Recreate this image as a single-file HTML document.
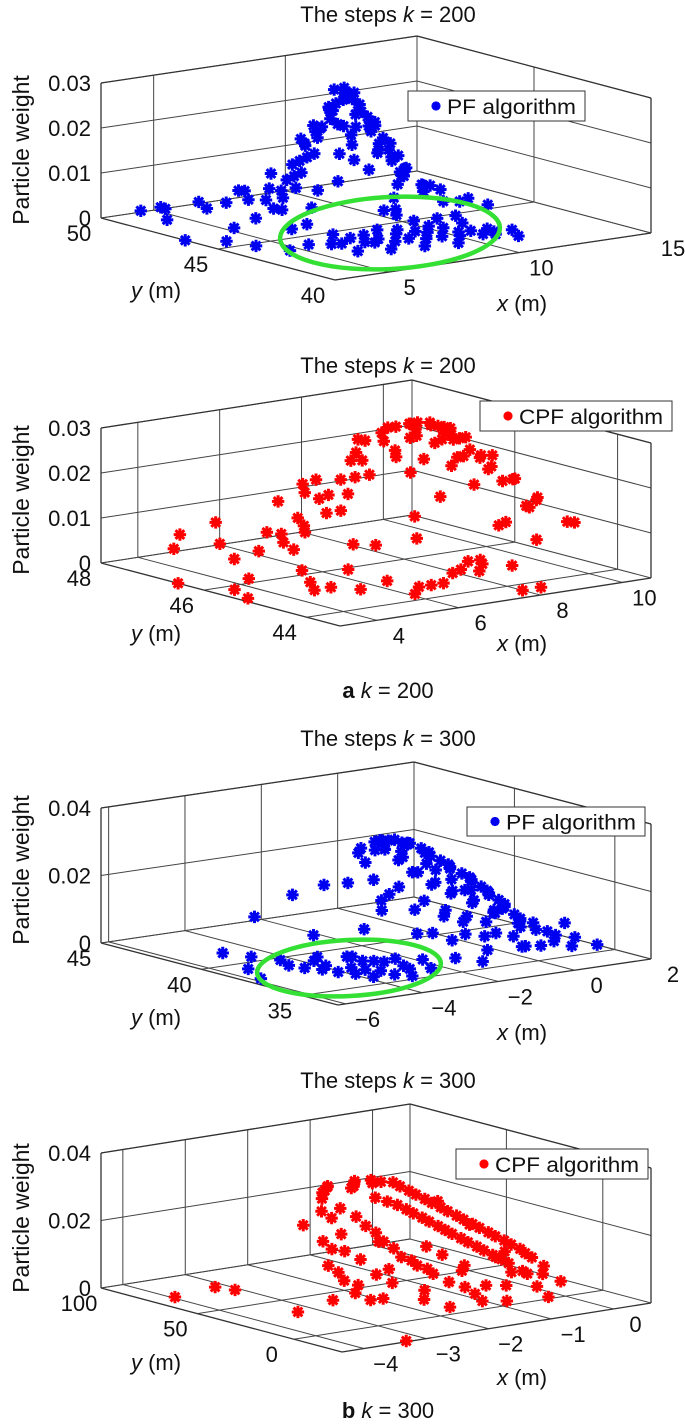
<!DOCTYPE html>
<html><head><meta charset="utf-8"><style>
html,body{margin:0;padding:0;background:#fff;}
svg{display:block;font-family:"Liberation Sans",Arial,sans-serif;}
</style></head><body>
<svg id="fig" width="685" height="1426" viewBox="0 0 685 1426" xmlns="http://www.w3.org/2000/svg"></svg>
<script>
// ---------- Panel 1: PF k=200 ----------
const p1x=[5.2,5.8,6.3,6.8,7.2,7.6,7.9,8.3,8.6,9,9.4,9.7,10,10.4,10.7,6,7,8.1,9.2,9.9,10.5,11,11.3,8.8,
3.2,3,3.5,4,4.5,4.8,5.2,5.5,5.8,4.2,6.2,6.5,3.8,5,4.4,6,
9.3,9.1,9.5,9,9.6,8.8,9.8,8.6,10,8.4,10.2,8.2,10.4,8,10.6,7.8,10.8,7.6,11,7.4,11.2,7.2,11.4,7,11.6,6.8,11.8,6.6,12.2,9.2,9.4,8.9,9.7,8.5,10.1,10.5,10.8,11.2,10,9.5,12.5,12.8,8,8.8,11.5,9,9.8];
const p1y=[43.6,43.3,43.8,43,43.5,42.6,42.9,43.3,42.4,42.8,43.2,42.2,42.6,42,41.8,42.4,42.1,41.9,41.7,43.4,43,42.5,41.5,43.9,
47.4,46.4,45.2,44.5,46,47.5,48.3,46.2,45,48.8,44.8,47.8,49.2,49.5,43.5,46,
46.7,46.9,46.5,46.4,47,46.8,46.6,46.5,46.9,47,46.4,46.6,46.8,46.9,46.5,46.6,46.9,47,46.3,46.7,46.8,46.4,46.5,46.8,46.9,46.5,46.2,47,46.6,46.1,47.3,47.2,46.1,46,47.3,45.5,45,44.6,45.2,44.8,45,44.5,45.5,45.8,45.5,45.3,45.8];
const p1z=[.001,.001,.002,.001,.0015,.001,.002,.002,.001,.0015,.002,.001,.001,.001,.001,.0005,.0005,.0005,.0005,.003,.002,.001,.0005,.004,
.003,0,.001,.0005,.002,.004,.004,.003,.002,.003,.003,.006,.002,.001,.0005,.005,
.028,.0275,.027,.026,.026,.024,.024,.022,.022,.02,.02,.018,.018,.016,.016,.014,.014,.012,.012,.01,.01,.008,.008,.007,.007,.006,.005,.005,.004,.023,.022,.019,.02,.015,.016,.009,.006,.004,.008,.006,.003,.002,.01,.017,.006,.012,.015];
const p1more=[[9.2,46.5,.0265],[9.4,46.8,.0255],[8.9,46.6,.025],[9.7,46.8,.025],[9,47,.023],[9.6,46.3,.023],[8.7,46.3,.021],[10.1,46.6,.021],[8.3,46.8,.019],[10.3,46.5,.019],[8.1,47.2,.017],[10.5,46.9,.017],[7.9,46.4,.015],[10.7,46.3,.015],[7.7,46.8,.013],[10.9,46.6,.013],[7.5,46.5,.011],[11.1,46.6,.011],[7.3,46.9,.009],[11.3,46.3,.009],[6.9,47.2,.007],[11.5,46.7,.007],[9.3,46.2,.02],[9.1,47.5,.018],[9.9,47.4,.018],[8.6,47.6,.015],[8.7,45.6,.014],[9.5,45.5,.015],[10.3,45.8,.013],[7.5,45.8,.008],[7,45.5,.005],[6.5,46.2,.004],[6.2,47.3,.005],[5.8,47.8,.004],[6.8,48.4,.005],[7.5,47.8,.009],[10.8,45.8,.01],[11.8,45.4,.005],[12,44.8,.003],[9.3,44.5,.004],
[6.1,43.2,.001],[6.6,43.4,.0015],[7.4,43.1,.001],[7.8,43.6,.002],[8.2,42.7,.001],[8.8,43.1,.0015],[9.2,42.4,.001],[9.6,42.8,.002],[10.2,42.3,.0015],[10.9,42.1,.001],[9.1,43.5,.003],[8.5,44.1,.005],[7,42.8,.001],[11.5,42,.001],[10.6,43.4,.003]];
p1more.forEach(p=>{p1x.push(p[0]);p1y.push(p[1]);p1z.push(p[2]);});
const p1xTicks=[5,10,15], p1yTicks=[40,45,50], p1zTicks=[0,0.01,0.02,0.03];
const p1zLabels=["0","0.01","0.02","0.03"];

// ---------- Panel 2: CPF k=200 ----------
const p2x=[8.75,8.5,9,8.3,9.2,8.6,8.9,8,9.5,7.8,9.7,7.6,9.9,7.4,10.1,7.2,10.2,7,10.4,6.8,10.5,6.6,10.6,6.4,10.4,6.2,8.4,9.3,8,9.8,8.8,7.5,7.2,6.8,8.2,9.4,10,10.3,7.6,8.8,9.1,7.8,8.5,6.5,
5.7,5.5,5,4.6,6,5.2,4.4,4.8,6.2,6.6,6.9,7.2,8.2,8.4,8,8.6,7.8,8,8.2,3.1,3.6,3.3,4.2,5.8,6.4,5.4,4];
const p2y=[46.1,46.3,45.9,46,46.3,45.7,46.6,46.4,46,46,46.4,46.5,45.8,46.2,46.2,46.6,45.6,46.3,46,46.7,45.4,46.4,44.9,46.8,44.6,46.5,45.4,45.4,45.3,45,44.8,45.4,47.3,47.5,47.2,47,47,46.8,47.4,47.4,44.9,44.6,44.3,45.8,
47,46,47.2,46.6,45.5,45.6,47.5,45.2,44.9,44.6,44.6,44.6,44.7,44.8,44.9,45,44.9,43.7,43.5,46.5,45.8,45.3,46,46.6,47.4,47.6,47.3];
const p2z=[.029,.0285,.028,.027,.027,.028,.027,.025,.025,.023,.023,.021,.021,.019,.019,.017,.016,.015,.014,.013,.012,.011,.008,.009,.009,.007,.022,.02,.016,.012,.01,.012,.012,.01,.018,.022,.02,.017,.014,.021,.01,.004,.003,.006,
.002,.001,.004,.003,.002,0,.006,0,.001,0,0,0,.001,.002,.001,.002,.0005,0,.001,0,0,0,.001,.005,.004,.007,.004];
const p2more=[[8.7,46.3,.0285],[8.4,46.1,.028],[9.1,46.1,.0275],[8.2,46.6,.026],[9.4,46.6,.026],[8.9,45.8,.027],[8.6,46.8,.026],[9.6,46.2,.024],[7.9,46.1,.024],[8.1,45.7,.023],[9.1,45.6,.024],[9.8,46.7,.022],[7.7,46.7,.022],[10,46.1,.02],[7.3,46.4,.018],[10.2,46.6,.018],[6.9,46.6,.014],[10.4,45.8,.015],[6.7,46.2,.012],[10.6,45.5,.011],[6.3,46.6,.008],[6,46.8,.006],[5.8,46.4,.004],[9.5,45.5,.02],[8.7,45.2,.018],[7.9,45.8,.02],[9.3,47.2,.024],[8.5,47.3,.022],[7.4,47.5,.013],[10.1,45.3,.011],[9.6,44.7,.006],[7.3,45.2,.008],[6.8,45.6,.006],[6,44.2,.0005],[5.3,44.7,.001],[4.7,44.8,.002]];
p2more.forEach(p=>{p2x.push(p[0]);p2y.push(p[1]);p2z.push(p[2]);});
const p2xTicks=[4,6,8,10], p2yTicks=[44,46,48], p2zTicks=[0,0.01,0.02,0.03];
const p2zLabels=["0","0.01","0.02","0.03"];

// ---------- Panel 3: PF k=300 ----------
const p3x=[-1.14,-1.3,-0.9,-1.5,-0.7,-1,-1.6,-0.5,-0.3,-0.1,0.1,0.3,0.5,0.6,0.8,0.9,1,1.1,1.2,1.3,-1.8,-1.9,-1.7,-1.2,-0.8,-0.4,0,0.4,-1.4,-0.9,-0.5,-2.1,-2,-1.6,-1,-0.2,0.5,-2.2,-1.3,-0.4,0.2,0.7,1.2,-2.5,
1.5,1.7,1.9,1.4,0.8,0.2,-0.6,-1.65,-1.2,1.8,2,
-3.8,-4.5,-2.5,-4.2,-3.5,-3.1,-4,-3.3,-2.9,-4.7,-3.6,-2.7,-4.4,-3.9,-5,-3.2,-2.3,
-4.8,-2.6,-5.5,-5.8,-3,-2.2];
const p3y=[40,40.3,39.7,39.8,40.2,41,40.8,39.5,39.8,39.3,39.6,39,39.3,38.7,39,38.4,38.7,38,38.3,37.6,40.2,39.6,39.2,39,38.8,38.6,38.3,38,38.5,38,37.8,40.5,39,38,37.4,37.3,37.2,41.5,41.5,41,40.5,40,39.5,42.5,
37,38.5,36.8,36,36.4,36.2,36.4,36,35.5,35.5,37.5,
37.1,39.3,35.6,38.2,36.2,36.8,36.5,38,35.9,38.5,37.7,37,37.4,35.8,39.8,35.2,36.4,
41.6,44.2,39,37.8,40.5,39.5];
const p3z=[.03,.0295,.029,.028,.028,.028,.027,.026,.024,.022,.02,.018,.016,.014,.012,.01,.008,.006,.004,.003,.024,.02,.016,.022,.018,.015,.012,.009,.012,.01,.008,.018,.012,.006,.004,.004,.003,.016,.024,.022,.018,.012,.006,.012,
.002,.003,.001,.0005,.001,.002,.002,.002,.001,.001,.004,
.001,.001,.001,.002,.001,.002,.0005,.002,.001,.001,.003,.002,.001,.0005,.002,.0005,.002,
0,.003,.0005,0,.004,.006];
const p3more=[[-1.2,40.2,.0295],[-1,39.9,.029],[-1.4,40.5,.029],[-0.8,40,.028],[-1.6,40.1,.0275],[-0.6,39.7,.027],[-0.4,39.9,.025],[-0.2,39.5,.023],[0,39.4,.021],[0.2,39.2,.019],[0.4,39.1,.017],[0.55,38.9,.015],[0.7,38.8,.013],[0.85,38.6,.011],[0.95,38.5,.009],[1.05,38.2,.007],[1.15,38.1,.005],[-1.1,40.6,.027],[-0.7,40.5,.025],[-0.2,40.2,.021],[0.3,39.9,.016],[0.6,39.5,.013],[-1.3,39.5,.025],[-0.9,39.3,.021],[-0.6,39,.018],[-0.2,38.9,.015],[0.2,38.6,.012],[0.6,38.3,.008],[1,37.8,.004],[-1.5,39.1,.018],[-1.1,38.6,.014],[-0.7,38.3,.011],[-0.3,38,.009],[0.1,37.8,.007],[-1.8,39.4,.014],[-1.3,37.8,.006],[-0.6,37.5,.005],[0.2,37.5,.004],[1.6,37.6,.002],[1.3,36.7,.001],[0.5,36.6,.001],
[-4.1,37.8,.001],[-3.7,36.6,.001],[-3.4,37.3,.002],[-4.3,36.8,.001],[-3,37.5,.001],[-3.9,38.6,.002],[-3.4,35.7,.0005],[-2.8,36.4,.001],[-4.6,37.9,.001]];
p3more.forEach(p=>{p3x.push(p[0]);p3y.push(p[1]);p3z.push(p[2]);});
const p3xTicks=[-6,-4,-2,0,2], p3yTicks=[35,40,45], p3zTicks=[0,0.02,0.04];
const p3xLabels=["\u22126","\u22124","\u22122","0","2"];
const p3zLabels=["0","0.02","0.04"];

// ---------- Panel 4: CPF k=300 ----------
const p4x=[-2.2,-2,-1.8,-1.6,-1.4,-1.2,-1,-0.9,-0.8,-0.7,-0.6,-0.5,-0.4,-0.3,-0.2,-0.15,-0.1,-1.5,-1.3,-1.2,-1.1,-1,-0.9,-0.8,-0.7,-0.6,-0.5,-2.2,-2.2,-2.3,-2.2,-2.1,-1.9,-1.8,-1.7,-1.6,-1.5,-1.4,-1.3,-0.4,-0.2,-0.3,-0.5,-2.5,-2.4,-2.5,-2.4,-1.6,-1.2,-0.9,-1,
-3.95,-3.17,-3.08,-3.28,-3.29,-1.57,-1.02,-0.77,-0.2,0.26,-2.1,-2.74,-2.5,-2.3,-1.8,-0.3,0.1];
const p4y=[55,60,65,58,64,62,57,52,47,42,37,32,27,22,17,12.5,8,50,45,40,35,30,25,20,15,10,6,50,45,40,35,30,42,36,30,25,20,15,10,15,25,40,50,55,48,42,37,45,25,12,20,
74.6,79,71.6,32.5,-24,9,10,5.4,2.3,10.8,33,31.8,28,20,15,5,15];
const p4z=[.027,.028,.028,.0285,.0285,.0285,.028,.026,.024,.022,.02,.018,.016,.014,.012,.01,.008,.026,.024,.022,.02,.018,.016,.014,.012,.01,.008,.022,.018,.014,.012,.008,.02,.016,.012,.01,.008,.006,.005,.006,.01,.016,.022,.02,.016,.01,.006,.014,.012,.004,.009,
0,0,0,0,0,0,0,0,0,.002,0,.002,.004,.003,.002,.003,.004];
const p4more=[[-2.1,58,.028],[-1.9,62,.0285],[-1.7,56,.0285],[-1.5,61,.0285],[-1.3,58,.0285],[-1.1,60,.028],[-0.95,55,.027],[-0.85,50,.025],[-0.75,45,.023],[-0.65,40,.021],[-0.55,35,.019],[-0.45,30,.017],[-0.35,25,.015],[-0.25,20,.013],[-0.18,15,.011],[-1.4,47,.025],[-1.25,42,.023],[-1.15,37,.021],[-1.05,32,.019],[-0.95,28,.017],[-0.85,23,.015],[-0.75,18,.013],[-0.65,12,.011],[-2,52,.024],[-1.9,47,.022],[-1.8,40,.018],[-1.7,34,.014],[-1.6,28,.011],[-1.5,23,.009],[-2.3,52,.024],[-2.35,45,.014],[-2.4,40,.008],[-2.3,33,.005],[-1.3,30,.014],[-1.1,18,.008],[-0.5,20,.01],[-0.3,10,.006],[-0.7,8,.004],[-1.2,8,.003],[-2,25,.006],[-1.7,18,.004],[-1.9,30,.009]];
p4more.forEach(p=>{p4x.push(p[0]);p4y.push(p[1]);p4z.push(p[2]);});
const p4xTicks=[-4,-3,-2,-1,0], p4yTicks=[0,50,100], p4zTicks=[0,0.02,0.04];
const p4xLabels=["\u22124","\u22123","\u22122","\u22121","0"];
const p4zLabels=["0","0.02","0.04"];

const NS="http://www.w3.org/2000/svg";
const svg=document.getElementById('fig');
function mk(tag,attrs,parent){const e=document.createElementNS(NS,tag);for(const k in attrs)e.setAttribute(k,attrs[k]);(parent||svg).appendChild(e);return e;}
const FS=22;

const panels=[
 {id:'p1',F:[335,280],R:[651,233],L:[101,218],h:135,xr:[3,15],yr:[40,50],zr:[0,0.03],
  xs:p1x,ys:p1y,zs:p1z,xt:p1xTicks,yt:p1yTicks,zt:p1zTicks,zl:p1zLabels,xl:null,
  color:'#0000f0',title:'200',titleY:22,legend:[408,91,177,30,'PF algorithm'],
  ylab:[156,298],xlab:[522,311],wY:150,ell:[390,233,110,36,-3]},
 {id:'p2',F:[340,626],R:[651,578],L:[101,563],h:135,xr:[3.1,10.7],yr:[43.35,48],zr:[0,0.03],
  xs:p2x,ys:p2y,zs:p2z,xt:p2xTicks,yt:p2yTicks,zt:p2zTicks,zl:p2zLabels,xl:null,
  color:'#ff0000',title:'200',titleY:373,legend:[480,401,192,30,'CPF algorithm'],
  ylab:[156,641],xlab:[522,651],wY:500,ell:null,cap:['a','200',698]},
 {id:'p3',F:[338,1005],R:[651,959],L:[101,943],h:135,xr:[-6.2,2],yr:[33.2,45],zr:[0,0.04],
  xs:p3x,ys:p3y,zs:p3z,xt:p3xTicks,yt:p3yTicks,zt:p3zTicks,zl:p3zLabels,xl:p3xLabels,
  color:'#0000f0',title:'300',titleY:746,legend:[467,807,178,29,'PF algorithm'],
  ylab:[156,1025],xlab:[522,1040],wY:870,ell:[349,968,92,28,-3]},
 {id:'p4',F:[342,1352],R:[651,1303],L:[101,1288],h:135,xr:[-4.35,0.6],yr:[-25,100],zr:[0,0.04],
  xs:p4x,ys:p4y,zs:p4z,xt:p4xTicks,yt:p4yTicks,zt:p4zTicks,zl:p4zLabels,xl:p4xLabels,
  color:'#ff0000',title:'300',titleY:1088,legend:[456,1149,192,30,'CPF algorithm'],
  ylab:[156,1370],xlab:[522,1385],wY:1218,ell:null,cap:['b','300',1418]}
];

function star(g,x,y,r,color){
  const d=r*0.707;
  return mk('path',{d:`M${x-r} ${y}L${x+r} ${y}M${x} ${y-r}L${x} ${y+r}M${x-d} ${y-d}L${x+d} ${y+d}M${x-d} ${y+d}L${x+d} ${y-d}`,stroke:color,'stroke-width':3,fill:'none'},g);
}

panels.forEach(P=>{
  const g=mk('g',{});
  
  
  const ax=[P.R[0]-P.F[0],P.R[1]-P.F[1]], bx=[P.L[0]-P.F[0],P.L[1]-P.F[1]];
  const sx=x=>(x-P.xr[0])/(P.xr[1]-P.xr[0]);
  const sy=y=>(y-P.yr[0])/(P.yr[1]-P.yr[0]);
  const sz=z=>(z-P.zr[0])/(P.zr[1]-P.zr[0]);
  const proj=(x,y,z)=>{const u=sx(x),v=sy(y),w=sz(z);return [P.F[0]+u*ax[0]+v*bx[0], P.F[1]+u*ax[1]+v*bx[1]-w*P.h];};
  const X0=P.xr[0],X1=P.xr[1],Y0=P.yr[0],Y1=P.yr[1],Z0=P.zr[0],Z1=P.zr[1];
  const line=(a,b,name,w,c)=>{const l=mk('line',{x1:a[0],y1:a[1],x2:b[0],y2:b[1],stroke:c||'#333','stroke-width':w||1},g);return l;};
  P.xt.forEach(t=>{line(proj(t,Y0,Z0),proj(t,Y1,Z0),'floor-grid-x','1','#444');line(proj(t,Y1,Z0),proj(t,Y1,Z1),'backwall-grid-x','1','#444');});
  P.yt.forEach(t=>{line(proj(X0,t,Z0),proj(X1,t,Z0),'floor-grid-y','1','#444');line(proj(X1,t,Z0),proj(X1,t,Z1),'sidewall-grid-y','1','#444');});
  P.zt.forEach(t=>{line(proj(X0,Y1,t),proj(X1,Y1,t),'backwall-grid-z','1','#444');line(proj(X1,Y1,t),proj(X1,Y0,t),'sidewall-grid-z','1','#444');});
  line(proj(X0,Y0,Z0),proj(X1,Y0,Z0),'x-axis-line',1.3);
  line(proj(X0,Y0,Z0),proj(X0,Y1,Z0),'y-axis-line',1.3);
  line(proj(X0,Y1,Z0),proj(X0,Y1,Z1),'z-axis-line',1.3);
  line(proj(X1,Y0,Z0),proj(X1,Y0,Z1),'right-edge',1.3);
  line(proj(X0,Y1,Z1),proj(X1,Y1,Z1),'back-top-edge',1.3);
  line(proj(X1,Y1,Z1),proj(X1,Y0,Z1),'side-top-edge',1.3);
  P.zt.forEach((t,i)=>{const p=proj(X0,Y1,t);const tx=mk('text',{x:p[0]-10,y:p[1]+8,'font-size':FS,'text-anchor':'end',fill:'#111'},g);tx.textContent=P.zl[i];});
  P.yt.forEach(t=>{const p=proj(X0,t,Z0);const tx=mk('text',{x:p[0]-22,y:p[1]+23,'font-size':FS,'text-anchor':'middle',fill:'#111'},g);tx.textContent=String(t);});
  P.xt.forEach((t,i)=>{const p=proj(t,Y0,Z0);const tx=mk('text',{x:p[0]+22,y:p[1]+23,'font-size':FS,'text-anchor':'middle',fill:'#111'},g);tx.textContent=P.xl?P.xl[i]:String(t);});
  const pg=mk('g',{},g);
  
  
  for(let i=0;i<P.xs.length;i++){const p=proj(P.xs[i],P.ys[i],P.zs[i]);const s=star(pg,p[0],p[1],6.2,P.color);
    
    }
  if(P.ell){const e=mk('ellipse',{cx:P.ell[0],cy:P.ell[1],rx:P.ell[2],ry:P.ell[3],fill:'none',stroke:'#33e033','stroke-width':4.5,transform:`rotate(${P.ell[4]} ${P.ell[0]} ${P.ell[1]})`},g);
    
    }
  const [lx,ly,lw,lh,lt]=P.legend;
  const lg=mk('g',{},g);
  
  
  mk('rect',{x:lx,y:ly,width:lw,height:lh,fill:'#fff',stroke:'#333','stroke-width':1},lg);
  star(lg,lx+28,ly+lh/2,4.5,P.color);
  const ltx=mk('text',{x:lx+39,y:ly+lh/2+8,'font-size':21,fill:'#111',textLength:lw-48,lengthAdjust:'spacingAndGlyphs'},lg);ltx.textContent=lt;
  const tt=mk('text',{x:388,y:P.titleY,'font-size':FS,'text-anchor':'middle',fill:'#111'},g);
  
  
  tt.innerHTML='The steps <tspan font-style="italic">k</tspan> = '+P.title;
  const yl=mk('text',{x:P.ylab[0],y:P.ylab[1],'font-size':FS,'text-anchor':'middle',fill:'#111'},g);
  
  
  yl.innerHTML='<tspan font-style="italic">y</tspan> (m)';
  const xl=mk('text',{x:P.xlab[0],y:P.xlab[1],'font-size':FS,'text-anchor':'middle',fill:'#111'},g);
  
  
  xl.innerHTML='<tspan font-style="italic">x</tspan> (m)';
  const zl=mk('text',{x:0,y:0,'font-size':23,'text-anchor':'middle',fill:'#111',transform:`translate(29 ${P.wY}) rotate(-90)`},g);
  
  
  zl.textContent='Particle weight';
  if(P.cap){const c=mk('text',{x:388,y:P.cap[2],'font-size':FS,'text-anchor':'middle',fill:'#111'},g);
    
    
    c.innerHTML='<tspan font-weight="bold">'+P.cap[0]+'</tspan> <tspan font-style="italic">k</tspan> = '+P.cap[1];}
});
</script>
</body></html>
